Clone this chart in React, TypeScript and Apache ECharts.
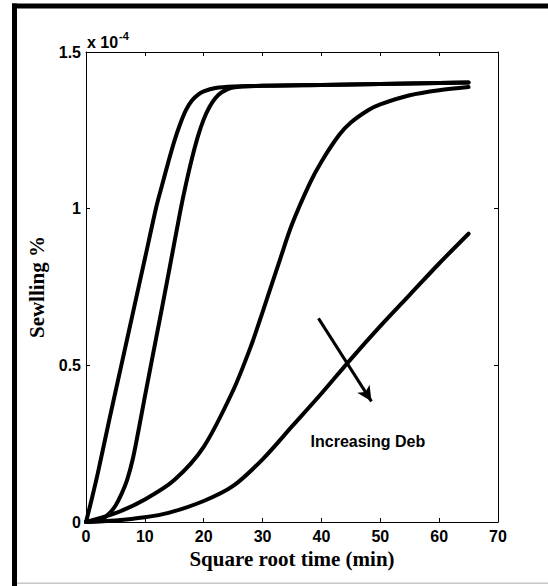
import React, { useEffect, useRef } from "react";
import * as echarts from "echarts";

// values in units of 1e-4 (axis shows "x 10^-4")
const curve1X = [0, 1, 2, 4, 6, 8, 10, 12, 13, 14, 15, 16, 17, 18, 19, 20, 22, 25, 30, 40, 50, 60, 65];
const curve1Y = [0, 0.075, 0.155, 0.33, 0.5, 0.67, 0.84, 1.01, 1.08, 1.15, 1.215, 1.27, 1.315, 1.345, 1.363, 1.374, 1.385, 1.39, 1.392, 1.395, 1.398, 1.401, 1.403];

const curve2X = [0, 2, 3, 4, 5, 6, 7, 8, 9, 10, 12, 14, 16, 17, 18, 19, 20, 21, 22, 23, 25, 30, 40, 50, 60, 65];
const curve2Y = [0, 0.005, 0.012, 0.028, 0.052, 0.088, 0.135, 0.205, 0.3, 0.4, 0.595, 0.79, 0.99, 1.08, 1.16, 1.23, 1.285, 1.325, 1.353, 1.371, 1.387, 1.392, 1.395, 1.398, 1.401, 1.403];

const curve3X = [0, 5, 10, 15, 20, 25, 28, 30, 33, 35, 38, 40, 43, 45, 48, 50, 55, 60, 65];
const curve3Y = [0, 0.028, 0.072, 0.134, 0.24, 0.42, 0.56, 0.67, 0.84, 0.95, 1.08, 1.15, 1.235, 1.275, 1.315, 1.333, 1.362, 1.378, 1.388];

const curve4X = [0, 5, 10, 14, 20, 25, 30, 35, 40, 45, 50, 55, 60, 65];
const curve4Y = [0, 0.005, 0.015, 0.029, 0.067, 0.115, 0.2, 0.305, 0.41, 0.52, 0.625, 0.725, 0.825, 0.92];

const xMin = 0;
const xMax = 70;
const xStep = 10;
const yMin = 0;
const yMax = 1.5;
const yStep = 0.5;

const xName = "Square root time (min)";
const yName = "Sewlling %";
const exponentBase = "x 10";
const exponentPower = "-4";
const annotationText = "Increasing Deb";
const annotationAnchor = [47.9, 0.258];
const arrowStart = [39.5, 0.65];
const arrowEnd = [48.5, 0.385];

const sansFont = "'Liberation Sans', Arial, sans-serif";
const serifFont = "'Liberation Serif', 'Times New Roman', serif";

export default function App() {
  const ref = useRef<HTMLDivElement>(null);

  useEffect(() => {
    document.body.style.margin = "0";
    const chart = echarts.init(ref.current!, null, { renderer: "svg" });
    const pairs = (xs: number[], ys: number[]) => xs.map((x, i) => [x, ys[i]]);
    const base = {
      type: "line",
      symbol: "none",
      showSymbol: false,
      smooth: 0.3,
      lineStyle: { color: "#000", width: 4, join: "round", cap: "round" },
      itemStyle: { color: "#000" },
      xAxisIndex: 0,
      yAxisIndex: 0,
      z: 3,
    };
    const axisLine = { show: true, onZero: false, lineStyle: { color: "#000", width: 1 } };
    const tick = { show: true, inside: true, length: 4, lineStyle: { color: "#000", width: 1 } };
    const labelStyle = { fontFamily: sansFont, fontWeight: "bold", fontSize: 16, color: "#000" };

    chart.setOption({
      animation: false,
      backgroundColor: "#fff",
      grid: { left: 86, top: 52, width: 412, height: 470, containLabel: false, outerBoundsMode: "none" },
      xAxis: [
        {
          type: "value", min: xMin, max: xMax, interval: xStep, position: "bottom",
          axisLine, axisTick: tick, splitLine: { show: false },
          axisLabel: { ...labelStyle, margin: 6 },
          name: xName, nameLocation: "middle", nameGap: 22,
          nameTextStyle: { fontFamily: serifFont, fontWeight: "bold", fontSize: 21, color: "#000" },
        },
        {
          type: "value", min: xMin, max: xMax, interval: xStep, position: "top",
          axisLine, axisTick: tick, splitLine: { show: false }, axisLabel: { show: false },
        },
      ],
      yAxis: [
        {
          type: "value", min: yMin, max: yMax, interval: yStep, position: "left",
          axisLine, axisTick: tick, splitLine: { show: false },
          axisLabel: { ...labelStyle, margin: 5 },
          name: yName, nameLocation: "middle", nameGap: 36, nameRotate: 90,
          nameTextStyle: { fontFamily: serifFont, fontWeight: "bold", fontSize: 21, color: "#000" },
        },
        {
          type: "value", min: yMin, max: yMax, interval: yStep, position: "right",
          axisLine, axisTick: tick, splitLine: { show: false }, axisLabel: { show: false },
        },
      ],
      series: [
        { ...base, name: "c1", data: pairs(curve1X, curve1Y) },
        { ...base, name: "c2", data: pairs(curve2X, curve2Y) },
        { ...base, name: "c3", data: pairs(curve3X, curve3Y) },
        {
          ...base, name: "c4", data: pairs(curve4X, curve4Y),
          markLine: {
            silent: true,
            symbol: ["none", "arrow"],
            symbolSize: [11, 15],
            lineStyle: { color: "#000", width: 3, type: "solid" },
            label: { show: false },
            data: [[{ coord: arrowStart }, { coord: arrowEnd }]],
          },
        },
      ],
    });

    const [ax, ay] = chart.convertToPixel({ gridIndex: 0 }, annotationAnchor) as number[];
    const [gx, gy] = chart.convertToPixel({ gridIndex: 0 }, [xMin, yMax]) as number[];

    chart.setOption({
      graphic: [
        { type: "rect", shape: { x: 12, y: 3.5, width: 536, height: 5 }, style: { fill: "#000" }, silent: true },
        { type: "rect", shape: { x: 12, y: 3.5, width: 5, height: 583 }, style: { fill: "#000" }, silent: true },
        { type: "rect", shape: { x: 17, y: 582.5, width: 531, height: 1.5 }, style: { fill: "#c8c8c8" }, silent: true },
        {
          type: "text", x: ax, y: ay,
          style: { text: annotationText, font: `bold 16px ${sansFont}`, fill: "#000", align: "center", verticalAlign: "middle" },
        },
        {
          type: "text", x: gx + 1, y: gy - 2,
          style: { text: exponentBase, font: `bold 16px ${sansFont}`, fill: "#000", align: "left", verticalAlign: "bottom" },
        },
        {
          type: "text", x: gx + 33, y: gy - 11,
          style: { text: exponentPower, font: `bold 11px ${sansFont}`, fill: "#000", align: "left", verticalAlign: "bottom" },
        },
      ],
    });

    return () => chart.dispose();
  }, []);

  return <div ref={ref} style={{ width: 548, height: 586 }} />;
}
